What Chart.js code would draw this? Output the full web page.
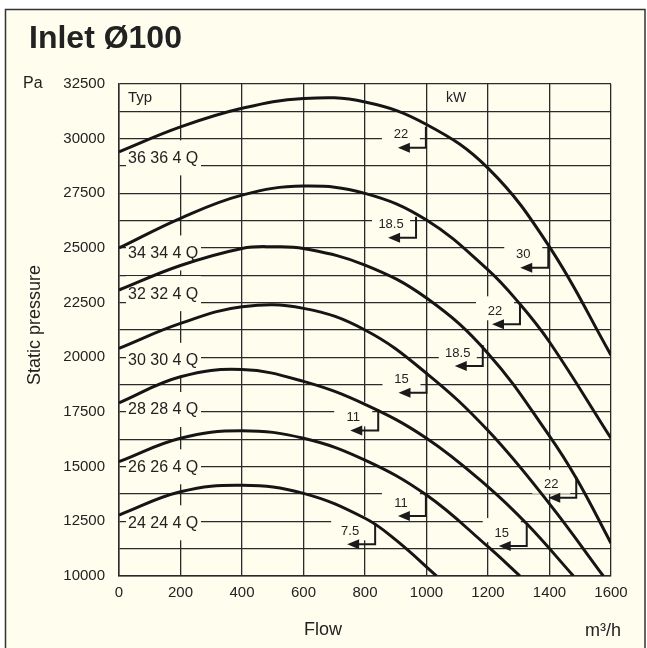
<!DOCTYPE html>
<html>
<head>
<meta charset="utf-8">
<script src="https://cdn.jsdelivr.net/npm/chart.js@4.4.0/dist/chart.umd.min.js"></script>
<style>
  html, body { margin: 0; padding: 0; background: #ffffff; }
  canvas { display: block; }
</style>
</head>
<body>
<canvas id="chart" width="647" height="648"></canvas>
<script>
  // ── Data ──
  const seriesNames = ["36 36 4 Q", "34 34 4 Q", "32 32 4 Q", "30 30 4 Q", "28 28 4 Q", "26 26 4 Q", "24 24 4 Q"];
  const namePressure = [29100, 24750, 22890, 19840, 17590, 14970, 12410];

  const flow36 = [0, 200, 400, 600, 800, 1000, 1200, 1400, 1600];
  const pa36   = [29400, 30540, 31390, 31840, 31680, 30650, 28650, 25050, 20100];

  const flow34 = [0, 200, 400, 600, 800, 1000, 1200, 1300, 1400, 1600];
  const pa34   = [25000, 26360, 27420, 27830, 27500, 26280, 24000, 22500, 20700, 16300];

  const flow32 = [0, 200, 400, 500, 600, 800, 1000, 1200, 1400, 1490, 1600];
  const pa32   = [23080, 24200, 24980, 25060, 24980, 24220, 22710, 20180, 16400, 14400, 11500];

  const flow30 = [0, 200, 400, 600, 800, 1000, 1200, 1400, 1575];
  const pa30   = [20410, 21550, 22310, 22240, 21250, 19270, 16650, 13300, 10000];

  const flow28 = [0, 200, 400, 600, 800, 1000, 1200, 1330, 1478];
  const pa28   = [17920, 19110, 19440, 18900, 17850, 16300, 14080, 12330, 10000];

  const flow26 = [0, 200, 400, 600, 800, 1000, 1200, 1304];
  const pa26   = [15230, 16300, 16640, 16300, 15300, 13700, 11340, 10000];

  const flow24 = [0, 200, 400, 600, 800, 900, 1033];
  const pa24   = [12790, 13850, 14150, 13780, 12640, 11650, 10000];

  // motor power markers (kW) and where their arrows touch the curves
  const kwText     = ["22", "18.5", "30", "22", "18.5", "15", "11", "22", "11", "15", "7.5"];
  const kwFlow     = [998, 966, 1396, 1304, 1183, 1000, 843, 1487, 998, 1326, 833];
  const kwPressure = [30540, 26430, 25060, 22470, 20560, 19340, 17620, 14540, 13700, 12330, 12410];

  const flowRange = [0, 1600];
  const flowStep = 200;
  const paRange = [10000, 32500];
  const paGridStep = 1250;
  const paLabelStep = 2500;

  // ── Style ──
  const FONT = '"Liberation Sans", Arial, Helvetica, sans-serif';
  const BG = "#fffeee";
  const INK = "#222222";
  const GRID = "#2a2a2a";

  function toPoints(xs, ys) {
    return xs.map(function (x, i) { return { x: x, y: ys[i] }; });
  }

  const curves = [
    toPoints(flow36, pa36), toPoints(flow34, pa34), toPoints(flow32, pa32),
    toPoints(flow30, pa30), toPoints(flow28, pa28), toPoints(flow26, pa26),
    toPoints(flow24, pa24)
  ];

  // ── Plugins ──
  const backdrop = {
    id: "backdrop",
    beforeDraw: function (chart) {
      const ctx = chart.ctx;
      ctx.save();
      ctx.fillStyle = "#ffffff";
      ctx.fillRect(0, 0, chart.width, chart.height);
      ctx.fillStyle = BG;
      ctx.fillRect(5, 9, 640, chart.height);
      ctx.restore();
    },
    afterDraw: function (chart) {
      const ctx = chart.ctx;
      ctx.save();
      ctx.strokeStyle = "#333";
      ctx.lineWidth = 1.5;
      ctx.strokeRect(5.5, 9.5, 639.5, chart.height + 10);

      ctx.fillStyle = INK;
      ctx.font = "bold 32px " + FONT;
      ctx.textBaseline = "alphabetic";
      ctx.textAlign = "left";
      ctx.fillText("Inlet \u00d8100", 29, 48);

      ctx.font = "16px " + FONT;
      ctx.fillText("Pa", 23, 88);

      ctx.font = "18px " + FONT;
      ctx.textAlign = "center";
      ctx.textBaseline = "middle";
      ctx.fillText("Flow", 323, 630);
      ctx.fillText("m\u00b3/h", 603, 631);

      ctx.translate(35, 325);
      ctx.rotate(-Math.PI / 2);
      ctx.fillText("Static pressure", 0, 0);
      ctx.restore();
    }
  };

  const annotations = {
    id: "annotations",
    beforeDatasetsDraw: function (chart) {
      const ctx = chart.ctx;
      const x = chart.scales.x, y = chart.scales.y;
      ctx.save();

      // header cells
      ctx.fillStyle = INK;
      ctx.textBaseline = "middle";
      ctx.font = "15px " + FONT;
      ctx.textAlign = "left";
      ctx.fillText("Typ", 128, 98);
      ctx.font = "14px " + FONT;
      ctx.textAlign = "center";
      ctx.fillText("kW", 456, 98);

      // fan type names on the left
      ctx.font = "16px " + FONT;
      ctx.textAlign = "left";
      const left = x.getPixelForValue(0) + 7;
      seriesNames.forEach(function (name, i) {
        const cy = y.getPixelForValue(namePressure[i]);
        ctx.fillStyle = BG;
        ctx.fillRect(left, cy - 18, 75, 35);
        ctx.fillStyle = INK;
        ctx.fillText(name, left + 2, cy);
      });

      // kW arrows
      ctx.font = "13px " + FONT;
      ctx.textAlign = "center";
      kwText.forEach(function (t, i) {
        const vx = x.getPixelForValue(kwFlow[i]);
        const top = y.getPixelForValue(kwPressure[i]);
        const by = top + 21;
        const tx = vx - 25, ty = top + 8;
        ctx.fillStyle = BG;
        ctx.fillRect(tx - 19, ty - 15, 38, 24);
        ctx.fillStyle = INK;
        ctx.fillText(t, tx, ty);

        ctx.strokeStyle = "#1a1a1a";
        ctx.lineWidth = 2;
        ctx.beginPath();
        ctx.moveTo(vx, top);
        ctx.lineTo(vx, by);
        ctx.lineTo(vx - 17, by);
        ctx.stroke();
        ctx.fillStyle = "#1a1a1a";
        ctx.beginPath();
        ctx.moveTo(vx - 28, by);
        ctx.lineTo(vx - 16, by - 5);
        ctx.lineTo(vx - 16, by + 5);
        ctx.closePath();
        ctx.fill();
      });
      ctx.restore();
    }
  };

  // ── Chart ──
  new Chart(document.getElementById("chart"), {
    type: "line",
    data: {
      datasets: curves.map(function (pts, i) {
        return {
          label: seriesNames[i],
          data: pts,
          borderColor: "#151515",
          borderWidth: 3,
          pointRadius: 0,
          fill: false,
          tension: 0.4
        };
      })
    },
    options: {
      responsive: false,
      animation: false,
      layout: { padding: { top: 84, right: 36, left: 0, bottom: 0 } },
      plugins: {
        legend: { display: false },
        tooltip: { enabled: false }
      },
      scales: {
        x: {
          type: "linear",
          min: flowRange[0],
          max: flowRange[1],
          ticks: {
            stepSize: flowStep,
            autoSkip: false,
            maxRotation: 0,
            padding: 8,
            color: INK,
            font: { family: FONT, size: 15 },
            callback: function (v) { return String(v); }
          },
          grid: { color: GRID, lineWidth: 1.3, drawTicks: false },
          border: { color: GRID, width: 1.5 },
          afterFit: function (s) { s.height = 72; }
        },
        y: {
          min: paRange[0],
          max: paRange[1],
          ticks: {
            stepSize: paGridStep,
            autoSkip: false,
            padding: 14,
            color: INK,
            font: { family: FONT, size: 15 },
            callback: function (v) { return v % paLabelStep === 0 ? String(v) : ""; }
          },
          grid: { color: GRID, lineWidth: 1.3, drawTicks: false },
          border: { color: GRID, width: 1.5 },
          afterFit: function (s) { s.width = 119; }
        }
      }
    },
    plugins: [backdrop, annotations]
  });
</script>
</body>
</html>
